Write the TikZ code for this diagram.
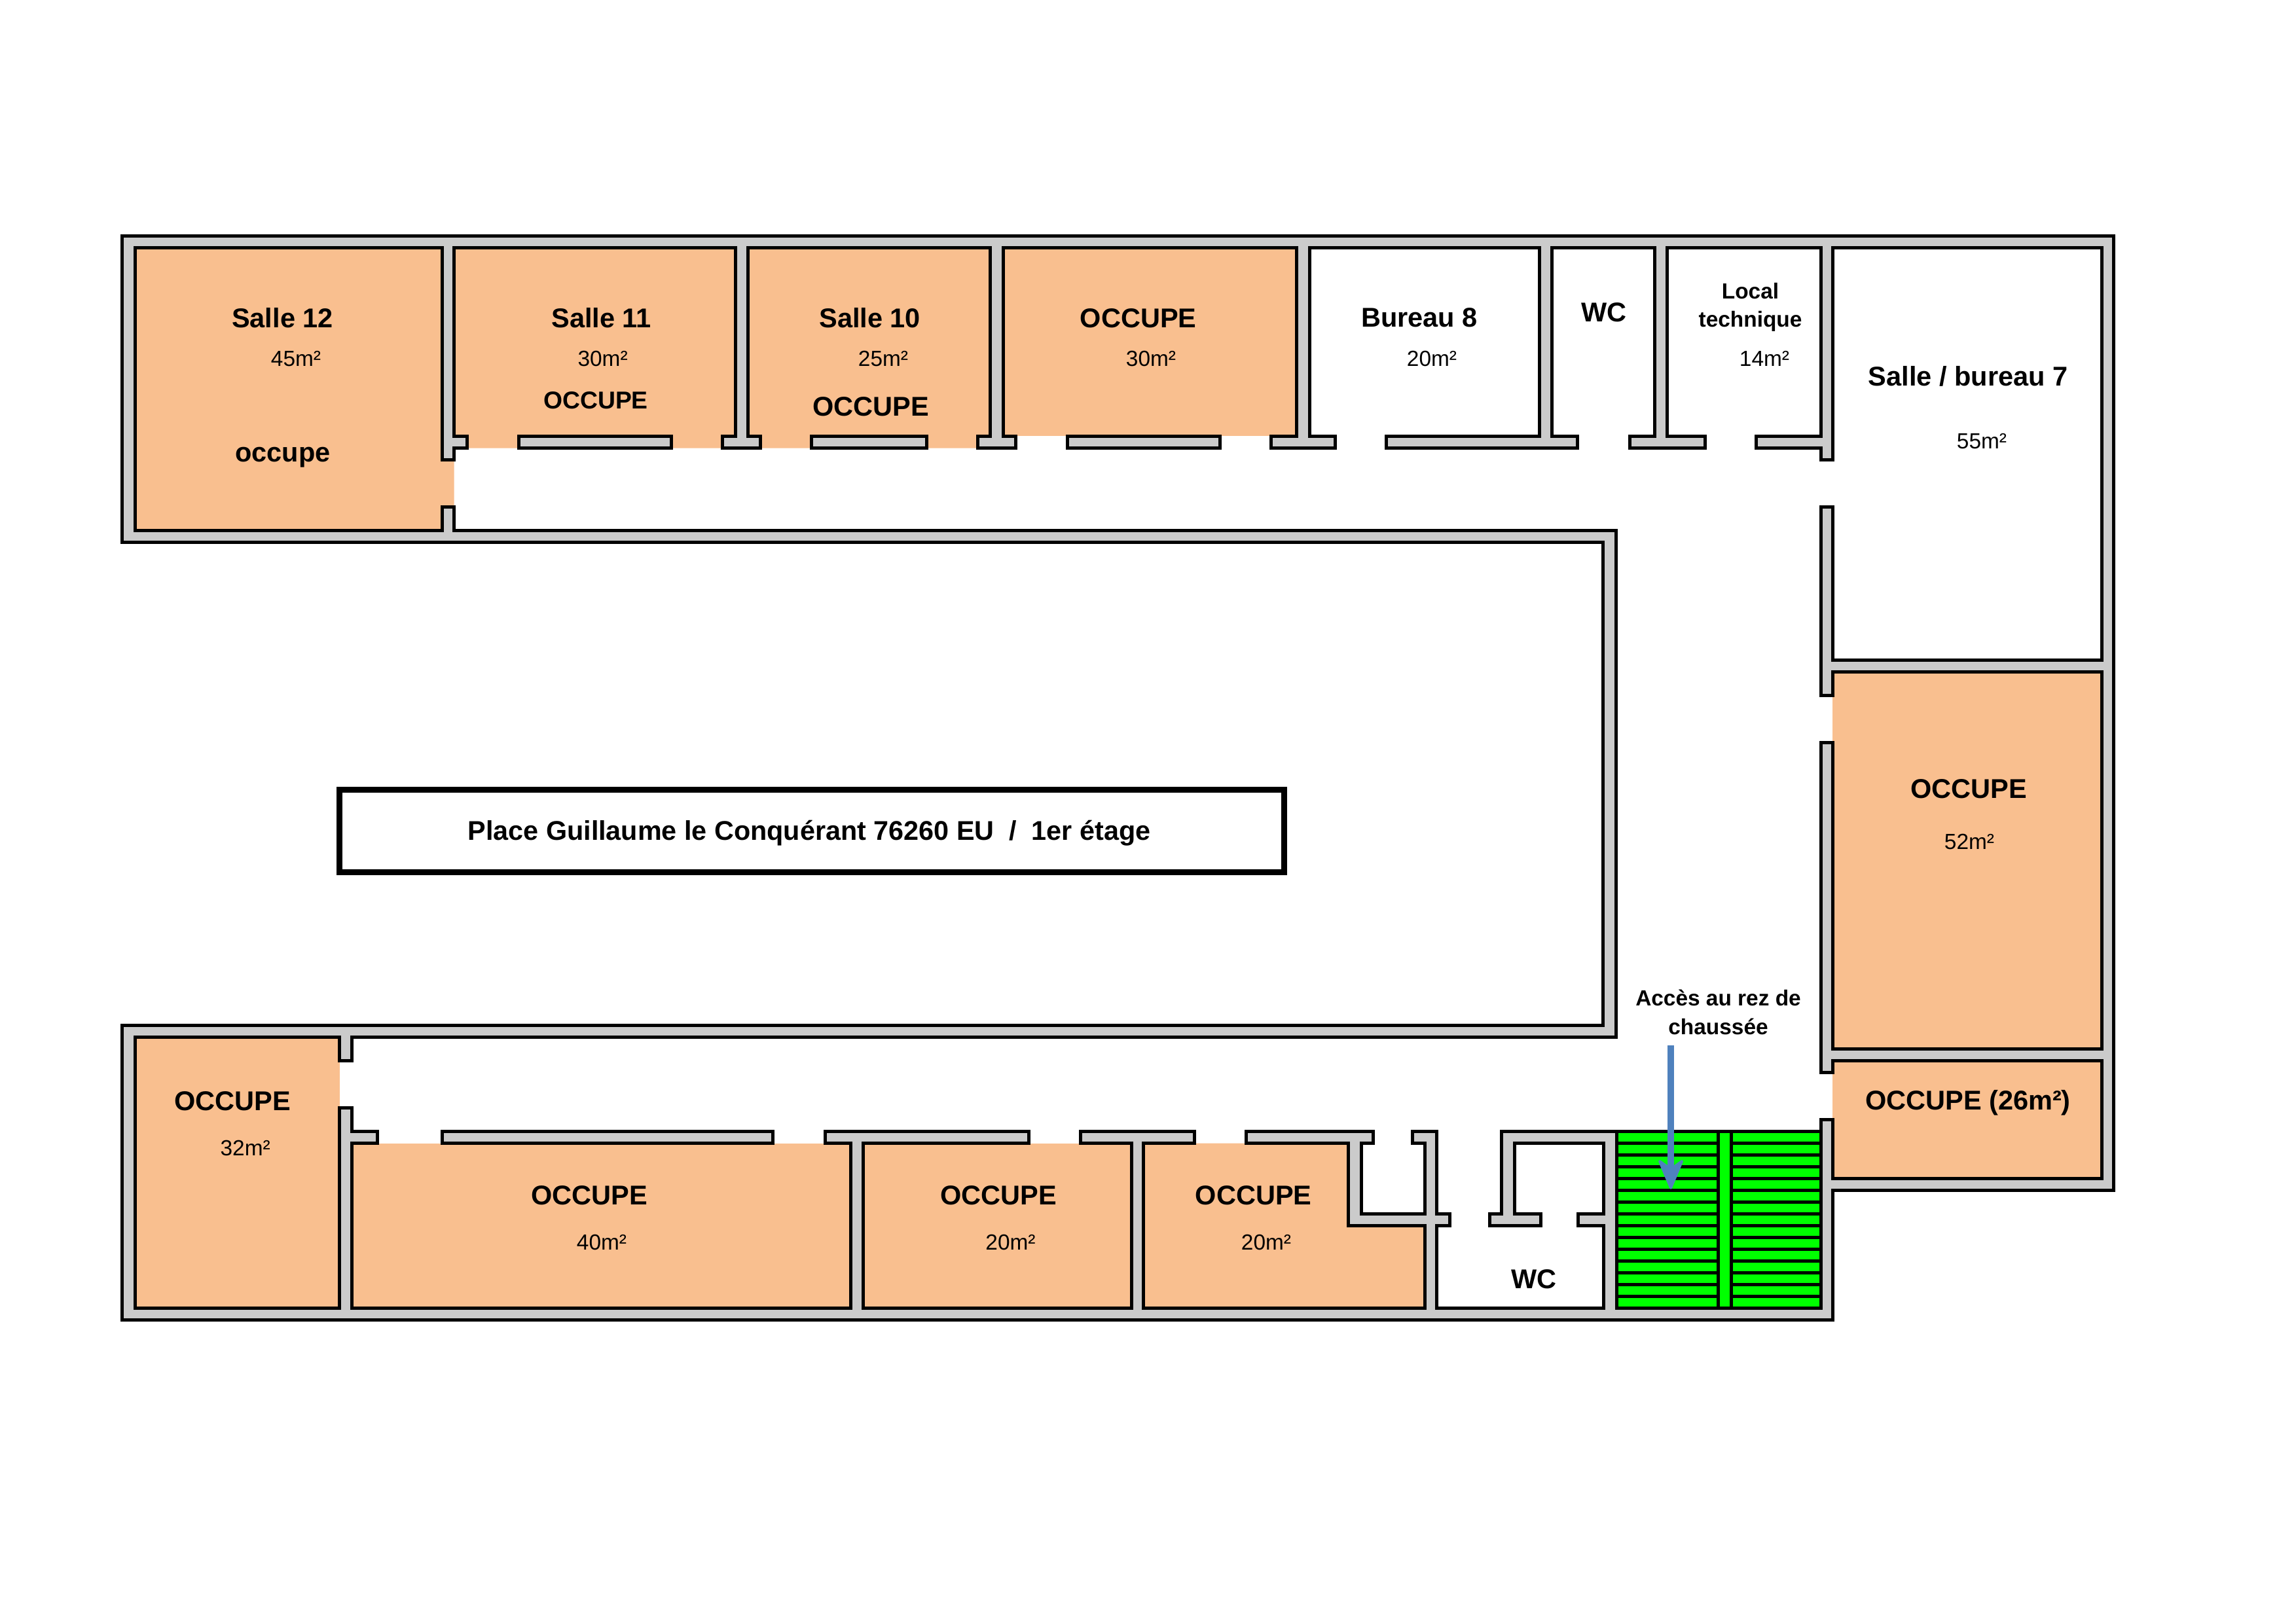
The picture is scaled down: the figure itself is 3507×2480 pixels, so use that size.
\documentclass[tikz,border=0pt]{standalone}
\usepackage{fontspec}
\setmainfont{Liberation Sans}
\usetikzlibrary{arrows.meta}
\definecolor{wallgrey}{HTML}{CBCBCB}
\definecolor{occ}{HTML}{F9BF8F}
\definecolor{stair}{HTML}{00FF00}
\definecolor{arrowblue}{HTML}{4F81BD}
\tikzset{
  wallline/.style={draw=black,line width=0.05cm,line join=miter,miter limit=10},
  chunk/.style={wallline,fill=wallgrey},
  occfill/.style={fill=occ,draw=none},
  lab/.style={anchor=base,inner sep=0pt,outer sep=0pt,text=black},
  big/.style={lab,font=\bfseries\fontsize{11.8}{14}\selectfont},
  mid/.style={lab,font=\bfseries\fontsize{10.6}{13}\selectfont},
  small/.style={lab,font=\bfseries\fontsize{9.5}{12}\selectfont},
  area/.style={lab,font=\fontsize{9.5}{12}\selectfont},
}
\def\interior{(2799,1062.3)--(2781,1062.3)--(2781,774.5)--(2799,774.5)--(2799,1008.3)--(3210,1008.3)--(3210,378.3)--(2799,378.3)--(2799,702.3)--(2781,702.3)--(2781,684.7)--(2682.6,684.7)--(2682.6,666.3)--(2781,666.3)--(2781,378.3)--(2546.5,378.3)--(2546.5,666.3)--(2604.7,666.3)--(2604.7,684.7)--(2489,684.7)--(2489,666.3)--(2527.5,666.3)--(2527.5,378.3)--(2370.7,378.3)--(2370.7,666.3)--(2409.7,666.3)--(2409.7,684.7)--(2117.3,684.7)--(2117.3,666.3)--(2351.7,666.3)--(2351.7,378.3)--(2000.3,378.3)--(2000.3,666.3)--(2039.7,666.3)--(2039.7,684.7)--(1941.7,684.7)--(1941.7,666.3)--(1980.7,666.3)--(1980.7,378.3)--(1532.3,378.3)--(1532.3,666.3)--(1551.7,666.3)--(1551.7,684.7)--(1493.3,684.7)--(1493.3,666.3)--(1512.7,666.3)--(1512.7,378.3)--(1142.3,378.3)--(1142.3,666.3)--(1161.3,666.3)--(1161.3,684.7)--(1103.4,684.7)--(1103.4,666.3)--(1123,666.3)--(1123,378.3)--(693.6,378.3)--(693.6,666.3)--(713,666.3)--(713,684.7)--(693.6,684.7)--(693.6,702.3)--(675,702.3)--(675,378.3)--(206.4,378.3)--(206.4,810.4)--(675,810.4)--(675,774.7)--(693.6,774.7)--(693.6,810.4)--(2468.5,810.4)--(2468.5,1584.7)--(537.3,1584.7)--(537.3,1620.7)--(518.9,1620.7)--(518.9,1584.7)--(206.4,1584.7)--(206.4,1998.4)--(518.9,1998.4)--(518.9,1692.7)--(537.3,1692.7)--(537.3,1728.7)--(576.2,1728.7)--(576.2,1746.7)--(537.3,1746.7)--(537.3,1998.4)--(1299,1998.4)--(1299,1746.7)--(1260.3,1746.7)--(1260.3,1728.7)--(1571.6,1728.7)--(1571.6,1746.7)--(1318.4,1746.7)--(1318.4,1998.4)--(1728.3,1998.4)--(1728.3,1746.7)--(1650,1746.7)--(1650,1728.7)--(1824.7,1728.7)--(1824.7,1746.7)--(1746.7,1746.7)--(1746.7,1998.4)--(2176.5,1998.4)--(2176.5,1872.4)--(2059.4,1872.4)--(2059.4,1746.7)--(1903,1746.7)--(1903,1728.7)--(2097.7,1728.7)--(2097.7,1746.7)--(2079,1746.7)--(2079,1854.3)--(2176.5,1854.3)--(2176.5,1746.7)--(2157,1746.7)--(2157,1728.7)--(2194.7,1728.7)--(2194.7,1854.3)--(2214,1854.3)--(2214,1872.4)--(2194.7,1872.4)--(2194.7,1998.4)--(2449,1998.4)--(2449,1872.4)--(2410.7,1872.4)--(2410.7,1854.3)--(2449,1854.3)--(2449,1746.7)--(2313.8,1746.7)--(2313.8,1854.3)--(2353,1854.3)--(2353,1872.4)--(2275.4,1872.4)--(2275.4,1854.3)--(2293.8,1854.3)--(2293.8,1728.7)--(2781.5,1728.7)--(2781.5,1710.4)--(2799,1710.4)--(2799,1800.4)--(3210,1800.4)--(3210,1620.4)--(2799,1620.4)--(2799,1638.6)--(2781.5,1638.6)--(2781.5,1134.7)--(2799,1134.7)--(2799,1602.5)--(3210,1602.5)--(3210,1026.3)--(2799,1026.3)--cycle}
\begin{document}
\begin{tikzpicture}[x=0.01cm,y=-0.01cm]
\useasboundingbox (0,0) rectangle (3507,2480);
\fill[white] (0,0) rectangle (3507,2480);
\draw[chunk] (186.6,360.7)--(3228,360.7)--(3228,1818.6)--(2799.5,1818.6)--(2799.5,2016.4)--(186.6,2016.4)--(186.6,1566.4)--(2448.3,1566.4)--(2448.3,828.4)--(186.6,828.4)--cycle;
\fill[white] \interior;
\fill[occfill] (206.4,378.3)--(675,378.3)--(675,702.3)--(693.6,702.3)--(693.6,774.7)--(675,774.7)--(675,810.4)--(206.4,810.4)--cycle;
\fill[occfill] (693.6,378.3)--(1123,378.3)--(1123,666.3)--(1103.4,666.3)--(1103.4,684.7)--(713,684.7)--(713,666.3)--(693.6,666.3)--cycle;
\fill[occfill] (1142.3,378.3)--(1512.7,378.3)--(1512.7,666.3)--(1493.3,666.3)--(1493.3,684.7)--(1161.3,684.7)--(1161.3,666.3)--(1142.3,666.3)--cycle;
\fill[occfill] (1532.3,378.3) rectangle (1980.7,666.3);
\fill[occfill] (2799,1026.3) rectangle (3210,1602.5);
\fill[occfill] (2799,1620.4) rectangle (3210,1800.4);
\fill[occfill] (206.4,1584.7) rectangle (518.9,1998.4);
\fill[occfill] (537.3,1746.7) rectangle (1299,1998.4);
\fill[occfill] (1318.4,1746.7) rectangle (1728.3,1998.4);
\fill[occfill] (1746.7,1746.7)--(2059.4,1746.7)--(2059.4,1872.4)--(2176.5,1872.4)--(2176.5,1998.4)--(1746.7,1998.4)--cycle;
\draw[wallline] \interior;
\draw[chunk] (792.4,666.3) rectangle (1025,684.7);
\draw[chunk] (1239.5,666.3) rectangle (1415.7,684.7);
\draw[chunk] (1630,666.3) rectangle (1863.6,684.7);
\draw[chunk] (675,1728.7) rectangle (1180.6,1746.7);
\fill[stair] (2469,1728.7) rectangle (2781.5,1998.5);
\foreach \k in {1,...,14} {
  \draw[wallline] (2469,1728.4+18*\k) -- (2624.7,1728.4+18*\k);
  \draw[wallline] (2644,1728.4+18*\k) -- (2781.5,1728.4+18*\k);
}
\draw[wallline] (2469,1728.7) rectangle (2781.5,1998.5);
\draw[wallline] (2624.7,1728.7) -- (2624.7,1998.5);
\draw[wallline] (2644,1728.7) -- (2644,1998.5);
\draw[line width=0.087cm,fill=white,line join=miter] (518.3,1206.4) rectangle (1961.7,1332.3);
\node[big,font=\bfseries\fontsize{11.75}{14}\selectfont] (title) at (1236,1283) {Place Guillaume le Conquérant 76260 EU~~/~~1er étage};
\node[big] (s12) at (431.5,500.2) {Salle 12};
\node[area] (s12a) at (452,559.5) {45m²};
\node[big] (s12o) at (432,705.5) {occupe};
\node[big] (s11) at (918.5,500.2) {Salle 11};
\node[area] (s11a) at (920.6,559.5) {30m²};
\node[mid] (s11o) at (910,624.7) {OCCUPE};
\node[big] (s10) at (1328.6,500.2) {Salle 10};
\node[area] (s10a) at (1349,559.5) {25m²};
\node[big] (s10o) at (1330,635) {OCCUPE};
\node[big] (o30) at (1738.6,500.2) {OCCUPE};
\node[area] (o30a) at (1758,559.5) {30m²};
\node[big] (b8) at (2168,499.5) {Bureau 8};
\node[area] (b8a) at (2187,559.5) {20m²};
\node[big] (wc1) at (2450,491.5) {WC};
\node[small] (lt1) at (2673.5,456) {Local};
\node[small] (lt2) at (2673.5,499.7) {technique};
\node[area] (lta) at (2695,559.5) {14m²};
\node[big] (s7) at (3006,589) {Salle / bureau 7};
\node[area] (s7a) at (3027,685) {55m²};
\node[big] (o52) at (3007,1219) {OCCUPE};
\node[area] (o52a) at (3008,1297.5) {52m²};
\node[big] (o26) at (3006,1695.5) {OCCUPE (26m²)};
\node[big] (o32) at (355,1696) {OCCUPE};
\node[area] (o32a) at (374.7,1765) {32m²};
\node[big] (o40) at (900,1840.5) {OCCUPE};
\node[area] (o40a) at (919,1909) {40m²};
\node[big] (o20) at (1525,1840.5) {OCCUPE};
\node[area] (o20a) at (1543.5,1909) {20m²};
\node[big] (o20b) at (1914.7,1840.5) {OCCUPE};
\node[area] (o20ba) at (1934,1909) {20m²};
\node[big] (wc2) at (2343,1968) {WC};
\node[small] (acc1) at (2624.5,1536.5) {Accès au rez de};
\node[small] (acc2) at (2624.5,1580.5) {chaussée};
\coordinate (arrS) at (2552,1597);
\coordinate (arrE) at (2552,1816.7);
\draw[arrowblue,line width=0.105cm] (arrS) -- (2552,1790);
\fill[arrowblue,draw=arrowblue,line width=0.04cm,line join=round] (2552,1814.7) -- (2535,1774) -- (2552,1786) -- (2569,1774) -- cycle;
\end{tikzpicture}
\end{document}
